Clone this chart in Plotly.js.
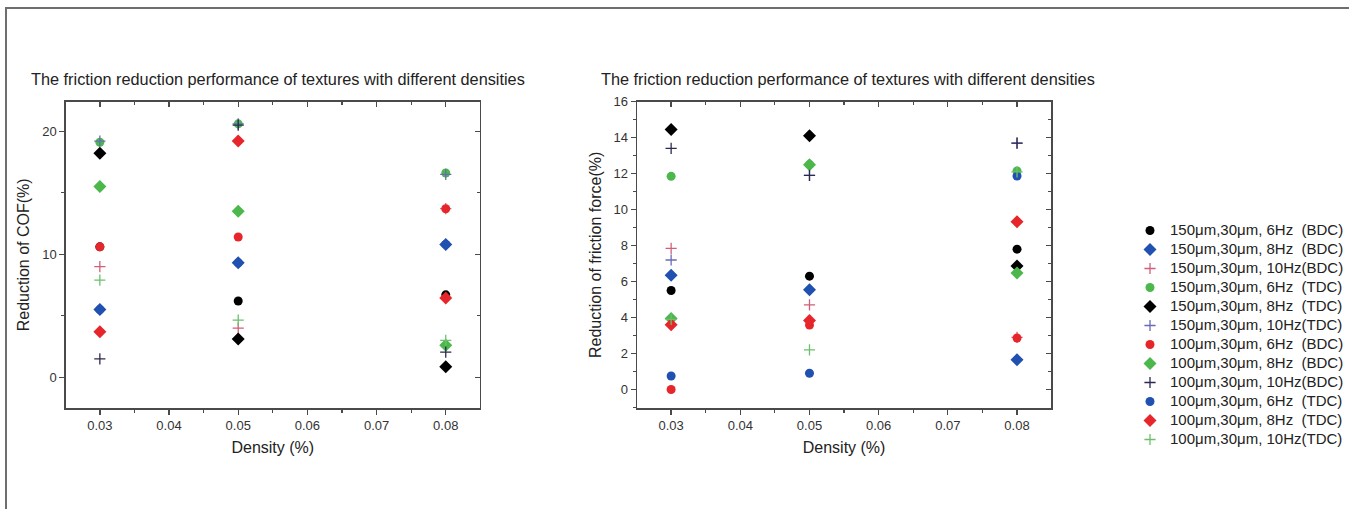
<!DOCTYPE html>
<html>
<head>
<meta charset="utf-8">
<script src="https://cdn.plot.ly/plotly-3.0.1.min.js"></script>
<style>
  html, body { margin: 0; padding: 0; background: #fff; }
  #wrap { position: relative; width: 1349px; height: 509px; overflow: hidden; }
  #chart { position: absolute; left: 0; top: 0; width: 1349px; height: 509px; }
  #frame { position: absolute; left: 5px; top: 7px; width: 1400px; height: 600px;
           border-left: 2px solid #6e6e6e; border-top: 2px solid #6e6e6e; pointer-events: none; }
</style>
</head>
<body>
<div id="wrap">
  <div id="chart"></div>
  <div id="frame"></div>
</div>
<script>
// ---------------- data ----------------
const densities = [0.03, 0.05, 0.08];

const seriesLabels = [
  "150μm,30μm, 6Hz\u00a0\u00a0(BDC)",
  "150μm,30μm, 8Hz\u00a0\u00a0(BDC)",
  "150μm,30μm, 10Hz(BDC)",
  "150μm,30μm, 6Hz\u00a0\u00a0(TDC)",
  "150μm,30μm, 8Hz\u00a0\u00a0(TDC)",
  "150μm,30μm, 10Hz(TDC)",
  "100μm,30μm, 6Hz\u00a0\u00a0(BDC)",
  "100μm,30μm, 8Hz\u00a0\u00a0(BDC)",
  "100μm,30μm, 10Hz(BDC)",
  "100μm,30μm, 6Hz\u00a0\u00a0(TDC)",
  "100μm,30μm, 8Hz\u00a0\u00a0(TDC)",
  "100μm,30μm, 10Hz(TDC)"
];

// Reduction of COF (%) — one array per series, values at densities 0.03, 0.05, 0.08
const cof_150_6_BDC  = [10.6, 6.2, 6.7];
const cof_150_8_BDC  = [5.5, 9.3, 10.8];
const cof_150_10_BDC = [9.0, 4.0, 13.7];
const cof_150_6_TDC  = [19.1, 20.6, 16.6];
const cof_150_8_TDC  = [18.2, 3.1, 0.85];
const cof_150_10_TDC = [19.2, 20.6, 16.5];
const cof_100_6_BDC  = [10.6, 11.4, 13.7];
const cof_100_8_BDC  = [15.5, 13.5, 2.6];
const cof_100_10_BDC = [1.5, 20.5, 2.05];
const cof_100_6_TDC  = [5.5, 9.3, 10.8];
const cof_100_8_TDC  = [3.7, 19.2, 6.45];
const cof_100_10_TDC = [7.9, 4.65, 3.0];

// Reduction of friction force (%)
const frc_150_6_BDC  = [5.5, 6.3, 7.8];
const frc_150_8_BDC  = [6.35, 5.55, 1.65];
const frc_150_10_BDC = [7.85, 4.7, 2.9];
const frc_150_6_TDC  = [11.85, 12.5, 12.15];
const frc_150_8_TDC  = [14.45, 14.1, 6.87];
const frc_150_10_TDC = [7.2, 11.9, 13.7];
const frc_100_6_BDC  = [0.0, 3.58, 2.86];
const frc_100_8_BDC  = [3.95, 12.5, 6.47];
const frc_100_10_BDC = [13.4, 11.9, 13.7];
const frc_100_6_TDC  = [0.75, 0.9, 11.87];
const frc_100_8_TDC  = [3.6, 3.83, 9.32];
const frc_100_10_TDC = [3.9, 2.2, 12.1];

const cofSeries = [cof_150_6_BDC, cof_150_8_BDC, cof_150_10_BDC, cof_150_6_TDC, cof_150_8_TDC, cof_150_10_TDC,
                   cof_100_6_BDC, cof_100_8_BDC, cof_100_10_BDC, cof_100_6_TDC, cof_100_8_TDC, cof_100_10_TDC];
const frcSeries = [frc_150_6_BDC, frc_150_8_BDC, frc_150_10_BDC, frc_150_6_TDC, frc_150_8_TDC, frc_150_10_TDC,
                   frc_100_6_BDC, frc_100_8_BDC, frc_100_10_BDC, frc_100_6_TDC, frc_100_8_TDC, frc_100_10_TDC];

const chartTitle = "The friction reduction performance of textures with different densities";
const xLabel = "Density (%)";
const yLabelLeft = "Reduction of COF(%)";
const yLabelRight = "Reduction of friction force(%)";

// ---------------- styles ----------------
const symbols = ["circle", "diamond", "cross-thin", "circle", "diamond", "cross-thin",
                 "circle", "diamond", "cross-thin", "circle", "diamond", "cross-thin"];
const colors  = ["#000000", "#2050b0", "#d0607a", "#4cb84c", "#000000", "#6a6ab8",
                 "#e6262a", "#4cb84c", "#2a2a50", "#2050b0", "#e6262a", "#6cc06c"];

const FONT = "Liberation Sans, Arial, sans-serif";

function markerFor(i) {
  if (symbols[i] === "cross-thin") {
    return { symbol: "cross-thin", size: 8, color: colors[i], line: { color: colors[i], width: 1.3 } };
  }
  return { symbol: symbols[i], size: symbols[i] === "diamond" ? 10 : 9, color: colors[i], line: { width: 0 } };
}

const traces = [];
cofSeries.forEach((vals, i) => {
  traces.push({
    type: "scatter", mode: "markers", x: densities, y: vals,
    name: '<span style="font-size:15px">' + seriesLabels[i] + '</span>',
    legendgroup: "g" + i, showlegend: true,
    marker: markerFor(i), xaxis: "x", yaxis: "y"
  });
});
frcSeries.forEach((vals, i) => {
  traces.push({
    type: "scatter", mode: "markers", x: densities, y: vals,
    name: seriesLabels[i], legendgroup: "g" + i, showlegend: false,
    marker: markerFor(i), xaxis: "x2", yaxis: "y2"
  });
});

const W = 1349, H = 509;
const L1 = [66 / W, 480 / W];
const L2 = [637.7 / W, 1051.7 / W];
const YD = [1 - 408 / H, 1 - 101.7 / H];

const axisLine = "#4a4a4a";
const tickFont = { family: FONT, size: 13, color: "#333" };
const labelFont = { family: FONT, size: 16, color: "#222" };
const titleFont = { family: FONT, size: 16.3, color: "#222" };

function xMain(anchor) {
  return {
    domain: anchor === "y" ? L1 : L2, anchor: anchor,
    range: [0.0251, 0.0849], dtick: 0.01, tick0: 0.03, tickformat: ".2f",
    ticks: "outside", ticklen: 5, tickwidth: 1.3, tickcolor: axisLine,
    minor: { dtick: 0.005, tick0: 0.025, ticks: "outside", ticklen: 3, tickwidth: 1.2, tickcolor: axisLine, showgrid: false },
    showline: true, linecolor: axisLine, linewidth: 1.6,
    showgrid: false, zeroline: false, tickfont: tickFont,
    title: { text: xLabel, font: labelFont, standoff: 9 }
  };
}
function yMain(anchor, range, dtick, minorDtick, label) {
  return {
    domain: YD, anchor: anchor, range: range, dtick: dtick, tick0: 0,
    ticks: "outside", ticklen: 5, tickwidth: 1.3, tickcolor: axisLine,
    minor: { dtick: minorDtick, tick0: 0, ticks: "outside", ticklen: 3, tickwidth: 1.2, tickcolor: axisLine, showgrid: false },
    showline: true, linecolor: axisLine, linewidth: 1.6,
    showgrid: false, zeroline: false, tickfont: tickFont,
    title: { text: label, font: labelFont, standoff: 8 }
  };
}
function xMirror(over, anchor) {
  return {
    overlaying: over, side: "top", anchor: anchor,
    range: [0.0251, 0.0849], dtick: 0.01, tick0: 0.03,
    ticks: "inside", ticklen: 5, tickwidth: 1.3, tickcolor: axisLine,
    minor: { dtick: 0.005, tick0: 0.025, ticks: "inside", ticklen: 3, tickwidth: 1.2, tickcolor: axisLine, showgrid: false },
    showline: true, linecolor: axisLine, linewidth: 1.6,
    showticklabels: false, showgrid: false, zeroline: false
  };
}
function yMirror(over, anchor, range, dtick, minorDtick) {
  return {
    overlaying: over, side: "right", anchor: anchor, range: range, dtick: dtick, tick0: 0,
    ticks: "inside", ticklen: 5, tickwidth: 1.3, tickcolor: axisLine,
    minor: { dtick: minorDtick, tick0: 0, ticks: "inside", ticklen: 3, tickwidth: 1.2, tickcolor: axisLine, showgrid: false },
    showline: true, linecolor: axisLine, linewidth: 1.6,
    showticklabels: false, showgrid: false, zeroline: false
  };
}

// empty helper traces so the mirrored (inside-tick) axes get drawn
traces.push({ type: "scatter", mode: "markers", x: [], y: [], xaxis: "x3", yaxis: "y3", showlegend: false, hoverinfo: "skip" });
traces.push({ type: "scatter", mode: "markers", x: [], y: [], xaxis: "x4", yaxis: "y4", showlegend: false, hoverinfo: "skip" });

const layout = {
  width: W, height: H,
  margin: { l: 0, r: 0, t: 0, b: 0 },
  paper_bgcolor: "#fff", plot_bgcolor: "rgba(0,0,0,0)",
  font: { family: FONT, color: "#222" },
  showlegend: true,
  xaxis: xMain("y"),
  yaxis: yMain("x", [-2.5, 22.4], 10, 5, yLabelLeft),
  xaxis2: xMain("y2"),
  yaxis2: yMain("x2", [-1.03, 16], 2, 1, yLabelRight),
  xaxis3: xMirror("x", "y3"),
  yaxis3: yMirror("y", "x3", [-2.5, 22.4], 10, 5),
  xaxis4: xMirror("x2", "y4"),
  yaxis4: yMirror("y2", "x4", [-1.03, 16], 2, 1),
  legend: {
    x: 1131 / W, y: 1 - 216 / H, xanchor: "left", yanchor: "top",
    font: { family: FONT, size: 12, color: "#222" },
    bgcolor: "rgba(0,0,0,0)", borderwidth: 0, tracegroupgap: 0, itemwidth: 30
  },
  annotations: [
    { text: chartTitle, xref: "paper", yref: "paper", x: 29 / W, y: 1 - 79 / H,
      xanchor: "left", yanchor: "middle", showarrow: false, font: titleFont },
    { text: chartTitle, xref: "paper", yref: "paper", x: 599 / W, y: 1 - 79 / H,
      xanchor: "left", yanchor: "middle", showarrow: false, font: titleFont }
  ]
};

Plotly.newPlot("chart", traces, layout, { displayModeBar: false, staticPlot: true });
</script>
</body>
</html>
